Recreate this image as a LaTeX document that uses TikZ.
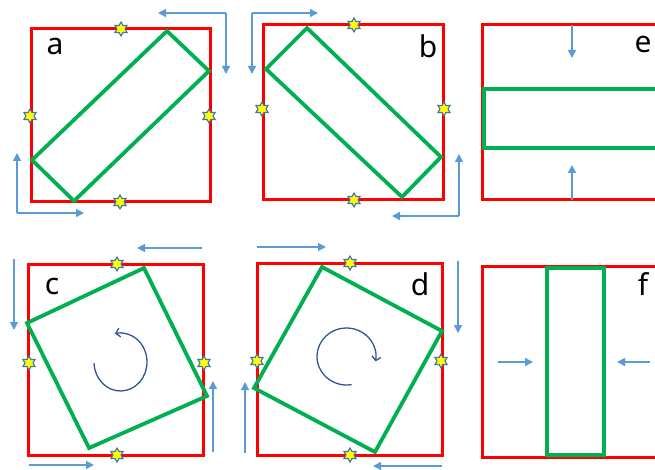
\documentclass[tikz,border=0pt]{standalone}
\usepackage{fontspec}
\setmainfont{Noto Sans}
\usetikzlibrary{arrows.meta,shapes.geometric}
\definecolor{redbox}{RGB}{255,0,0}
\definecolor{greenbox}{RGB}{0,176,80}
\definecolor{arrowblue}{RGB}{91,155,213}
\definecolor{rotblue}{RGB}{47,85,151}
\definecolor{starline}{RGB}{68,114,170}
\definecolor{staryellow}{RGB}{255,255,0}
\tikzset{
  frame/.style={draw=redbox,line width=3pt},
  plate/.style={draw=greenbox,line width=3.8pt,line join=miter},
  push/.style={draw=arrowblue,line width=1.4pt,-{Triangle[length=8pt,width=8pt]}},
  turn/.style={draw=rotblue,line width=1.3pt,-{Straight Barb[length=4pt,width=9pt]}},
  pin/.style={star,star points=6,star point ratio=1.75,minimum size=14pt,inner sep=0pt,
    fill=staryellow,draw=starline,line width=1.1pt},
  tag/.style={font=\fontsize{30}{30}\selectfont,inner sep=0pt}
}
\begin{document}
\begin{tikzpicture}[x=1pt,y=-1pt]
\useasboundingbox (0,0) rectangle (655,470);
% ---------- panel a ----------
\draw[frame] (31,29) rectangle (210,202);
\draw[plate] (167,31) -- (209,71) -- (74,201) -- (32,160) -- cycle;
\node[pin] (a1) at (121,29) {};
\node[pin] (a2) at (30,116) {};
\node[pin] (a3) at (209,116) {};
\node[pin] (a4) at (120,202) {};
\node[tag] (la) at (55,46) {a};
\coordinate (aTR) at (226,13);
\coordinate (aTRl) at (158,13);
\coordinate (aTRd) at (226,74);
\coordinate (aBL) at (17,213);
\coordinate (aBLu) at (17,153);
\coordinate (aBLr) at (84,213);
\draw[push] (aTR) -- (aTRl);
\draw[push] (aTR) -- (aTRd);
\draw[push] (aBL) -- (aBLu);
\draw[push] (aBL) -- (aBLr);
% ---------- panel b ----------
\draw[frame] (263,25) rectangle (443,200);
\draw[plate] (307,28) -- (441,157) -- (402,197) -- (266,69) -- cycle;
\node[pin] (b1) at (354,25) {};
\node[pin] (b2) at (262,109) {};
\node[pin] (b3) at (444,109) {};
\node[pin] (b4) at (354,200) {};
\node[tag] (lb) at (428,46) {b};
\coordinate (bTL) at (252,13);
\coordinate (bTLr) at (318,13);
\coordinate (bTLd) at (252,74);
\coordinate (bBR) at (459,216);
\coordinate (bBRu) at (459,154);
\coordinate (bBRl) at (392,216);
\draw[push] (bTL) -- (bTLr);
\draw[push] (bTL) -- (bTLd);
\draw[push] (bBR) -- (bBRu);
\draw[push] (bBR) -- (bBRl);
% ---------- panel e ----------
\draw[frame] (482,25) rectangle (670,200);
\draw[plate] (484,89) rectangle (670,148);
\node[tag] (le) at (643,44) {e};
\coordinate (eT) at (572,25);
\coordinate (eTd) at (572,58);
\coordinate (eB) at (572,200);
\coordinate (eBu) at (572,165);
\draw[push] (eT) -- (eTd);
\draw[push] (eB) -- (eBu);
% ---------- panel c ----------
\draw[frame] (28,264) rectangle (203,455);
\draw[plate] (144,268) -- (207,396) -- (89,448) -- (27,323) -- cycle;
\node[pin] (c1) at (117,264) {};
\node[pin] (c2) at (29,363) {};
\node[pin] (c3) at (204,363) {};
\node[pin] (c4) at (117,455) {};
\node[tag] (lc) at (52,286) {c};
\coordinate (cT) at (202,248);
\coordinate (cTl) at (137,248);
\coordinate (cL) at (14,259);
\coordinate (cLd) at (14,330);
\coordinate (cR) at (213,452);
\coordinate (cRu) at (213,381);
\coordinate (cB) at (29,465);
\coordinate (cBr) at (94,465);
\draw[push] (cT) -- (cTl);
\draw[push] (cL) -- (cLd);
\draw[push] (cR) -- (cRu);
\draw[push] (cB) -- (cBr);
\coordinate (cC) at (120.5,362);
\draw[turn] ([shift={(182:26.5 and -29)}]cC) arc[start angle=182,end angle=462,x radius=26.5,y radius=-29];
% ---------- panel d ----------
\draw[frame] (257,263) rectangle (442,455);
\draw[plate] (322,267) -- (442,331) -- (375,452) -- (254,388) -- cycle;
\node[pin] (d1) at (350,263) {};
\node[pin] (d2) at (257,361) {};
\node[pin] (d3) at (441,361) {};
\node[pin] (d4) at (350,455) {};
\node[tag] (ld) at (420,284) {d};
\coordinate (dT) at (257,247);
\coordinate (dTr) at (326,247);
\coordinate (dR) at (458,261);
\coordinate (dRd) at (458,333);
\coordinate (dL) at (245,453);
\coordinate (dLu) at (245,382);
\coordinate (dB) at (442,466);
\coordinate (dBl) at (373,466);
\draw[push] (dT) -- (dTr);
\draw[push] (dR) -- (dRd);
\draw[push] (dL) -- (dLu);
\draw[push] (dB) -- (dBl);
\coordinate (dC) at (346.5,356.5);
\draw[turn] ([shift={(280:29.5 and -28.5)}]dC) arc[start angle=280,end angle=-10,x radius=29.5,y radius=-28.5];
% ---------- panel f ----------
\draw[frame] (482,266) rectangle (670,457);
\draw[plate] (547,268) rectangle (604,455);
\node[tag] (lf) at (643,284) {f};
\coordinate (fL) at (498,362);
\coordinate (fLr) at (533,362);
\coordinate (fR) at (650,362);
\coordinate (fRl) at (617,362);
\draw[push] (fL) -- (fLr);
\draw[push] (fR) -- (fRl);
\end{tikzpicture}
\end{document}
